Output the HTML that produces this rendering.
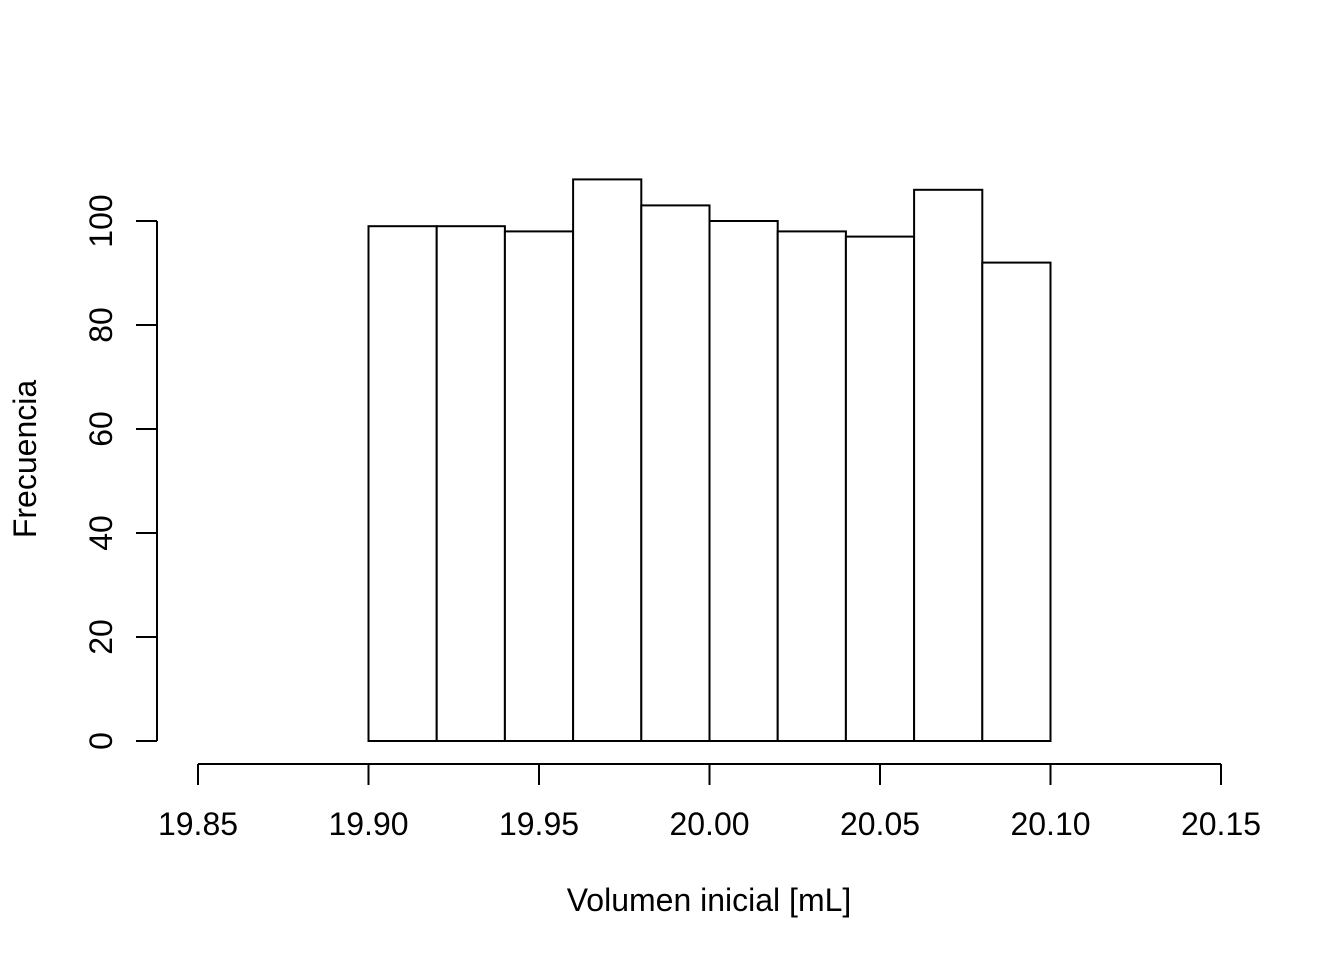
<!DOCTYPE html>
<html><head><meta charset="utf-8"><style>
html,body{margin:0;padding:0;background:#fff;}
svg{display:block;font-family:"Liberation Sans",Arial,sans-serif;}
</style></head><body>
<svg id="chart" width="1344" height="960" viewBox="0 0 1344 960">
<g id="bars"></g>
<g id="xaxis"></g>
<g id="yaxis"></g>
<text x="709" y="911" font-size="32" text-anchor="middle">Volumen inicial [mL]</text>
<text transform="translate(36,459) rotate(-90)" font-size="32" text-anchor="middle">Frecuencia</text>
</svg>
<script>
const binStarts=[19.90,19.92,19.94,19.96,19.98,20.00,20.02,20.04,20.06,20.08];
const binWidth=0.02;
const counts=[99,99,98,108,103,100,98,97,106,92];
const xTicks=[19.85,19.90,19.95,20.00,20.05,20.10,20.15];
const xTickLabels=["19.85","19.90","19.95","20.00","20.05","20.10","20.15"];
const yTicks=[0,20,40,60,80,100];
const yTickLabels=["0","20","40","60","80","100"];
const NS="http://www.w3.org/2000/svg";
function xs(v){return 198+(v-19.85)*(1221-198)/0.30;}
function ys(v){return 741-v*5.2;}
function mk(tag,attrs,parent){const e=document.createElementNS(NS,tag);for(const k in attrs)e.setAttribute(k,attrs[k]);parent.appendChild(e);return e;}
const bars=document.getElementById('bars');
binStarts.forEach((b,i)=>{
  const x0=xs(b),x1=xs(b+binWidth),y=ys(counts[i]);
  const r=mk('rect',{x:x0,y:y,width:x1-x0,height:ys(0)-y,fill:'#fff',stroke:'#000','stroke-width':2},bars);
  
  
});
const xa=document.getElementById('xaxis');
const xl=mk('line',{x1:xs(xTicks[0]),x2:xs(xTicks[xTicks.length-1]),y1:764,y2:764,stroke:'#000','stroke-width':2},xa);


xTicks.forEach((t,i)=>{
  const tk=mk('line',{x1:xs(t),x2:xs(t),y1:764,y2:785,stroke:'#000','stroke-width':2},xa);
  
  
  const tx=mk('text',{x:xs(t),y:835,'font-size':32,'text-anchor':'middle'},xa);
  tx.textContent=xTickLabels[i];
  
  
});
const ya=document.getElementById('yaxis');
const yl=mk('line',{x1:157,x2:157,y1:ys(yTicks[0]),y2:ys(yTicks[yTicks.length-1]),stroke:'#000','stroke-width':2},ya);


yTicks.forEach((t,i)=>{
  const tk=mk('line',{x1:136,x2:157,y1:ys(t),y2:ys(t),stroke:'#000','stroke-width':2},ya);
  
  
  const tx=mk('text',{transform:'translate(112,'+ys(t)+') rotate(-90)','font-size':32,'text-anchor':'middle'},ya);
  tx.textContent=yTickLabels[i];
  
  
});
</script>
</body></html>
